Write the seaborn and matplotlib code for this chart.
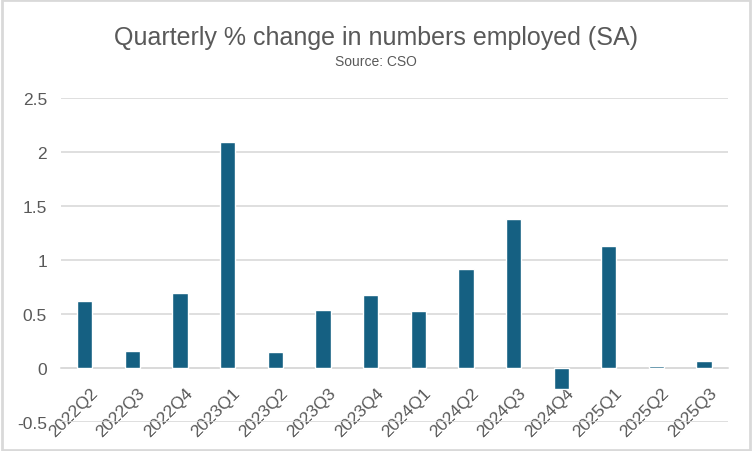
import matplotlib
matplotlib.use("Agg")
import matplotlib.pyplot as plt
import matplotlib.transforms as mtransforms
import seaborn as sns
import pandas as pd

# --------------------------------------------------
# DATA
# --------------------------------------------------

quarters = ["2022Q2", "2022Q3", "2022Q4", "2023Q1", "2023Q2", "2023Q3", "2023Q4",
            "2024Q1", "2024Q2", "2024Q3", "2024Q4", "2025Q1", "2025Q2", "2025Q3"]
pct_change = [0.62, 0.16, 0.70, 2.10, 0.15, 0.54, 0.68,
              0.53, 0.92, 1.38, -0.19, 1.13, 0.02, 0.07]
y_ticks = [-0.5, 0, 0.5, 1, 1.5, 2, 2.5]
y_labels = ["-0.5", "0", "0.5", "1", "1.5", "2", "2.5"]

df = pd.DataFrame({"quarter": quarters, "change": pct_change})

# --------------------------------------------------
# PLOT
# --------------------------------------------------

sns.set_style("white")
plt.rcParams["font.family"] = ["Liberation Sans", "DejaVu Sans"]

fig = plt.figure(figsize=(7.52, 4.52), dpi=100)
ax = fig.add_axes([0.081, 0.064, 0.887, 0.716])

sns.barplot(data=df, x="quarter", y="change", color="#156082",
            width=0.32, saturation=1, ax=ax, zorder=3)

ax.set_ylim(-0.5, 2.5)
ax.set_xlim(-0.5, len(quarters) - 0.5)
ax.set_yticks(y_ticks)
ax.set_yticklabels(y_labels)
ax.grid(axis="y", color="#d9d9d9", linewidth=1.2)
ax.set_axisbelow(True)

for side in ["top", "right", "left"]:
    ax.spines[side].set_visible(False)
ax.spines["bottom"].set_position(("data", 0))
ax.spines["bottom"].set_color("#d9d9d9")
ax.spines["bottom"].set_linewidth(1.2)
ax.spines["bottom"].set_zorder(1)

ax.tick_params(axis="both", length=0, labelsize=12.5, labelcolor="#595959")
ax.tick_params(axis="y", pad=10)
ax.tick_params(axis="x", pad=12)

# rotated labels, nudged a little to the right like Excel
shift = mtransforms.ScaledTranslation(5 / 100, 0, fig.dpi_scale_trans)
for lab in ax.get_xticklabels():
    lab.set_rotation(45)
    lab.set_ha("right")
    lab.set_rotation_mode("anchor")
    lab.set_transform(lab.get_transform() + shift)

ax.set_xlabel("")
ax.set_ylabel("")

fig.text(0.5, 0.915, "Quarterly % change in numbers employed (SA)",
         ha="center", va="center", fontsize=18, color="#595959",
         family=["Liberation Sans Narrow", "Liberation Sans", "DejaVu Sans"])
fig.text(0.5, 0.862, "Source: CSO", ha="center", va="center",
         fontsize=10, color="#595959",
         family=["Liberation Sans Narrow", "Liberation Sans", "DejaVu Sans"])

# figure border
fig.patches.append(plt.Rectangle((0.002, 0.002), 0.996, 0.996, transform=fig.transFigure,
                                 fill=False, edgecolor="#d9d9d9", linewidth=2))

fig.savefig("out.png", dpi=100)
plt.close(fig)
